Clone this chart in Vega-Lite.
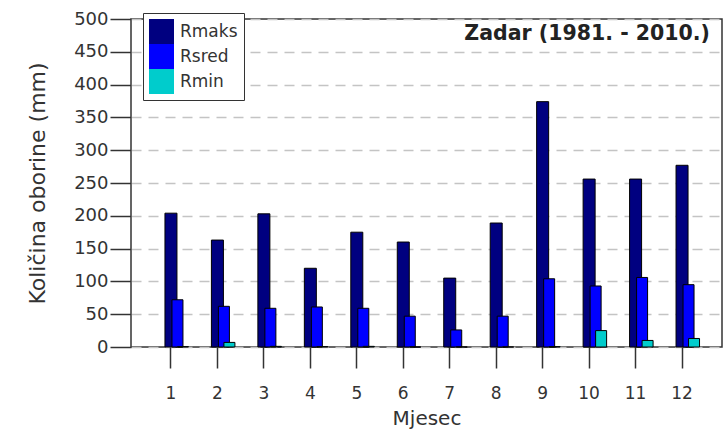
{
  "$schema": "https://vega.github.io/schema/vega-lite/v6.json",
  "width": 591,
  "height": 328,
  "autosize": {"type": "none"},
  "padding": {"left": 131, "top": 19, "right": 5, "bottom": 86},
  "background": "white",
  "config": {
    "font": "DejaVu Sans",
    "view": {"stroke": "#333333", "strokeWidth": 1.5}
  },
  "title": {
    "text": "Zadar (1981. - 2010.)",
    "orient": "top",
    "anchor": "end",
    "frame": "group",
    "offset": -34,
    "dx": -12,
    "fontSize": 20.5,
    "fontWeight": "bold",
    "color": "#222222"
  },
  "data": {
    "values": [
      {"month": 1, "type": "Rmaks", "value": 204},
      {"month": 2, "type": "Rmaks", "value": 163},
      {"month": 3, "type": "Rmaks", "value": 203},
      {"month": 4, "type": "Rmaks", "value": 120},
      {"month": 5, "type": "Rmaks", "value": 175},
      {"month": 6, "type": "Rmaks", "value": 160},
      {"month": 7, "type": "Rmaks", "value": 105},
      {"month": 8, "type": "Rmaks", "value": 189},
      {"month": 9, "type": "Rmaks", "value": 374},
      {"month": 10, "type": "Rmaks", "value": 256},
      {"month": 11, "type": "Rmaks", "value": 256},
      {"month": 12, "type": "Rmaks", "value": 277},
      {"month": 1, "type": "Rsred", "value": 72},
      {"month": 2, "type": "Rsred", "value": 62},
      {"month": 3, "type": "Rsred", "value": 59},
      {"month": 4, "type": "Rsred", "value": 61},
      {"month": 5, "type": "Rsred", "value": 59},
      {"month": 6, "type": "Rsred", "value": 47},
      {"month": 7, "type": "Rsred", "value": 26},
      {"month": 8, "type": "Rsred", "value": 47},
      {"month": 9, "type": "Rsred", "value": 104},
      {"month": 10, "type": "Rsred", "value": 93},
      {"month": 11, "type": "Rsred", "value": 106},
      {"month": 12, "type": "Rsred", "value": 95},
      {"month": 1, "type": "Rmin", "value": 0.5},
      {"month": 2, "type": "Rmin", "value": 7},
      {"month": 3, "type": "Rmin", "value": 1},
      {"month": 4, "type": "Rmin", "value": 0.5},
      {"month": 5, "type": "Rmin", "value": 1},
      {"month": 6, "type": "Rmin", "value": 0},
      {"month": 7, "type": "Rmin", "value": 0},
      {"month": 8, "type": "Rmin", "value": 0},
      {"month": 9, "type": "Rmin", "value": 0.5},
      {"month": 10, "type": "Rmin", "value": 25},
      {"month": 11, "type": "Rmin", "value": 10},
      {"month": 12, "type": "Rmin", "value": 13}
    ]
  },
  "encoding": {
    "x": {
      "field": "month",
      "type": "ordinal",
      "scale": {"paddingInner": 0, "paddingOuter": 0.36},
      "axis": {
        "title": "Mjesec",
        "labelAngle": 0,
        "domain": false,
        "tickSize": 21,
        "tickWidth": 1.5,
        "tickColor": "#333333",
        "labelFontSize": 17,
        "labelColor": "#333333",
        "labelPadding": 17,
        "titleFontSize": 20,
        "titleFontWeight": "normal",
        "titleColor": "#333333",
        "titlePadding": 7
      }
    },
    "y": {
      "field": "value",
      "type": "quantitative",
      "scale": {"domain": [0, 500]},
      "axis": {
        "title": "Količina oborine (mm)",
        "values": [0, 50, 100, 150, 200, 250, 300, 350, 400, 450, 500],
        "domain": false,
        "tickSize": 21,
        "tickWidth": 1.5,
        "tickColor": "#333333",
        "labelFontSize": 18,
        "labelColor": "#333333",
        "labelPadding": 2,
        "grid": true,
        "gridColor": "#c4c4c4",
        "gridDash": [10, 7],
        "gridWidth": 1.5,
        "titleFontSize": 22,
        "titleFontWeight": "normal",
        "titleColor": "#333333",
        "titlePadding": 24
      }
    },
    "color": {
      "field": "type",
      "type": "nominal",
      "scale": {"domain": ["Rmaks", "Rsred", "Rmin"], "range": ["#000080", "#0000ff", "#00cccc"]},
      "legend": {
        "title": null,
        "orient": "none",
        "legendX": 12,
        "legendY": -6,
        "direction": "vertical",
        "strokeColor": "#333333",
        "fillColor": "white",
        "padding": 6,
        "symbolType": "square",
        "symbolSize": 625,
        "symbolStrokeWidth": 0,
        "symbolOpacity": 1,
        "rowPadding": 0,
        "labelFontSize": 17,
        "labelColor": "#333333",
        "labelOffset": 6
      }
    }
  },
  "layer": [
    {
      "transform": [{"filter": "datum.type === 'Rmaks'"}],
      "mark": {"type": "bar", "width": 12, "xOffset": 0, "stroke": "black", "strokeWidth": 1, "opacity": 1}
    },
    {
      "transform": [{"filter": "datum.type === 'Rsred'"}],
      "mark": {"type": "bar", "width": 11, "xOffset": 6.5, "stroke": "black", "strokeWidth": 1, "opacity": 1}
    },
    {
      "transform": [{"filter": "datum.type === 'Rmin'"}],
      "mark": {"type": "bar", "width": 11, "xOffset": 12, "stroke": "black", "strokeWidth": 1, "opacity": 1}
    }
  ]
}
